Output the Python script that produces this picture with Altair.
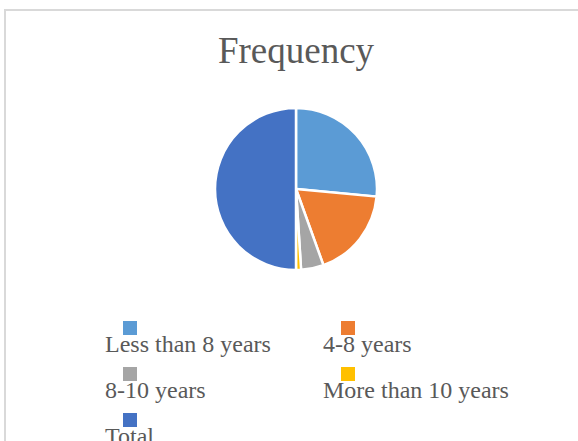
import altair as alt
import pandas as pd

# Experience bands and their counts
categories = ["Less than 8 years", "4-8 years", "8-10 years", "More than 10 years", "Total"]
counts = [53, 36, 9, 2, 100]
colors = ["#5B9BD5", "#ED7D31", "#A5A5A5", "#FFC000", "#4472C4"]

df = pd.DataFrame({
    "band": categories,
    "count": counts,
    "order": list(range(len(categories))),
    "col": [i % 2 for i in range(len(categories))],
    "row": [i // 2 for i in range(len(categories))],
})

SERIF = "Liberation Serif"
TEXT = "#595959"

color_scale = alt.Scale(domain=categories, range=colors)

pie = alt.Chart(df).mark_arc(stroke="white", strokeWidth=2.5).encode(
    theta=alt.Theta("count:Q", stack=True),
    order=alt.Order("order:Q"),
    color=alt.Color("band:N", scale=color_scale, legend=None),
)

# Two-column key below the pie: swatch above each label
key_x = alt.X("col:Q", scale=alt.Scale(domain=[0, 1], range=[-85, 133]), axis=None)
key_y = alt.Y("row:Q", scale=alt.Scale(domain=[0, 2], range=[220, 312]), axis=None)

swatches = alt.Chart(df).mark_square(size=196, opacity=1).encode(
    x=key_x,
    y=key_y,
    color=alt.Color("band:N", scale=color_scale, legend=None),
)

labels = alt.Chart(df).mark_text(
    align="left", baseline="alphabetic", dx=-25, dy=24,
    font=SERIF, fontSize=24, color=TEXT,
).encode(x=key_x, y=key_y, text="band:N")

# Thin grey frame around the chart
frame = alt.Chart(df).mark_rect(
    fill="transparent", stroke="#D9D9D9", strokeWidth=1.5
).encode(
    x=alt.value(-210), y=alt.value(-98), x2=alt.value(380), y2=alt.value(350)
)

chart = alt.layer(frame, pie, swatches, labels).properties(
    width=162,
    height=162,
    autosize=alt.AutoSizeParams(type="none"),
    padding={"left": 215, "top": 108, "right": 201, "bottom": 171},
    background="white",
    title=alt.TitleParams(
        "Frequency",
        font=SERIF,
        fontSize=37,
        fontWeight="normal",
        color=TEXT,
        anchor="middle",
        frame="group",
        offset=-62,
    ),
).configure_view(stroke="transparent")

chart.save("out.html", embed_options={"renderer": "svg", "actions": False})
